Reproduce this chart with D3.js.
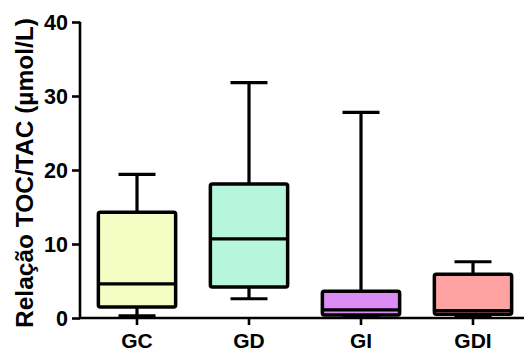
<!DOCTYPE html>
<html><head><meta charset="utf-8">
<script src="https://cdn.jsdelivr.net/npm/d3@7"></script>
<style>body{margin:0;background:#fff}svg{display:block}text{font-family:"Liberation Sans",Arial,sans-serif;font-weight:bold}</style>
</head><body><svg id="c" width="524" height="352"></svg>
<script>
const categories = ["GC","GD","GI","GDI"];
const whiskerLow = [0.3, 2.6, 0.1, 0.1];
const q1 = [1.5, 4.2, 0.4, 0.5];
const median = [4.6, 10.7, 1.1, 1.0];
const q3 = [14.3, 18.1, 3.6, 5.9];
const whiskerHigh = [19.4, 31.8, 27.8, 7.6];
const colors = ["#F4FDC3","#B5F6DC","#DD8CF6","#FFA2A2"];
const yTicks = [0,10,20,30,40];

const svg = d3.select("#c");
const x = d3.scaleBand().domain(categories).range([81, 529]).paddingInner(0.31).paddingOuter(0.155);
const y = d3.scaleLinear().domain([0,40]).range([318,22]);

const data = categories.map((c,i)=>({c,lo:whiskerLow[i],q1:q1[i],med:median[i],q3:q3[i],hi:whiskerHigh[i],col:colors[i]}));
const bw = x.bandwidth();
const g = svg.append("g");
data.forEach(d=>{
  const cx = x(d.c)+bw/2;
  const gg = g.append("g").attr("stroke","#000").attr("stroke-width",3.2).attr("stroke-linejoin","round");
  gg.append("line").attr("x1",cx).attr("x2",cx).attr("y1",y(d.hi)).attr("y2",y(d.q3));
  gg.append("line").attr("x1",cx).attr("x2",cx).attr("y1",y(d.q1)).attr("y2",y(d.lo));
  gg.append("line").attr("x1",cx-18.5).attr("x2",cx+18.5).attr("y1",y(d.hi)).attr("y2",y(d.hi));
  gg.append("line").attr("x1",cx-18.5).attr("x2",cx+18.5).attr("y1",y(d.lo)).attr("y2",y(d.lo));
  gg.append("rect").attr("x",x(d.c)).attr("width",bw).attr("y",y(d.q3)).attr("height",y(d.q1)-y(d.q3))
    .attr("fill",d.col).attr("rx",2).attr("stroke-width",3.5);
  gg.append("line").attr("x1",x(d.c)).attr("x2",x(d.c)+bw).attr("y1",y(d.med)).attr("y2",y(d.med)).attr("stroke-width",3.2);
});

const ya = svg.append("g").attr("transform","translate(80,0)")
  .call(d3.axisLeft(y).tickValues(yTicks).tickSize(8).tickPadding(4));
ya.select(".domain").attr("stroke-width",2.6).attr("d","M0,21.7V318");
ya.selectAll(".tick line").attr("stroke-width",2.6);
ya.selectAll(".tick text").attr("font-size",21.5).attr("fill","#000").attr("dy","0.36em");

const xa = svg.append("g").attr("transform","translate(0,318)")
  .call(d3.axisBottom(x).tickSize(7).tickPadding(8));
xa.select(".domain").attr("stroke-width",2.6).attr("d","M79,0H524");
xa.selectAll(".tick line").attr("stroke-width",2.6);
xa.selectAll(".tick text").attr("font-size",21).attr("fill","#000");

svg.append("text").attr("transform","translate(33,173) rotate(-90)").attr("text-anchor","middle")
  .attr("font-size",24.5).text("Relação TOC/TAC (µmol/L)");
</script></body></html>
